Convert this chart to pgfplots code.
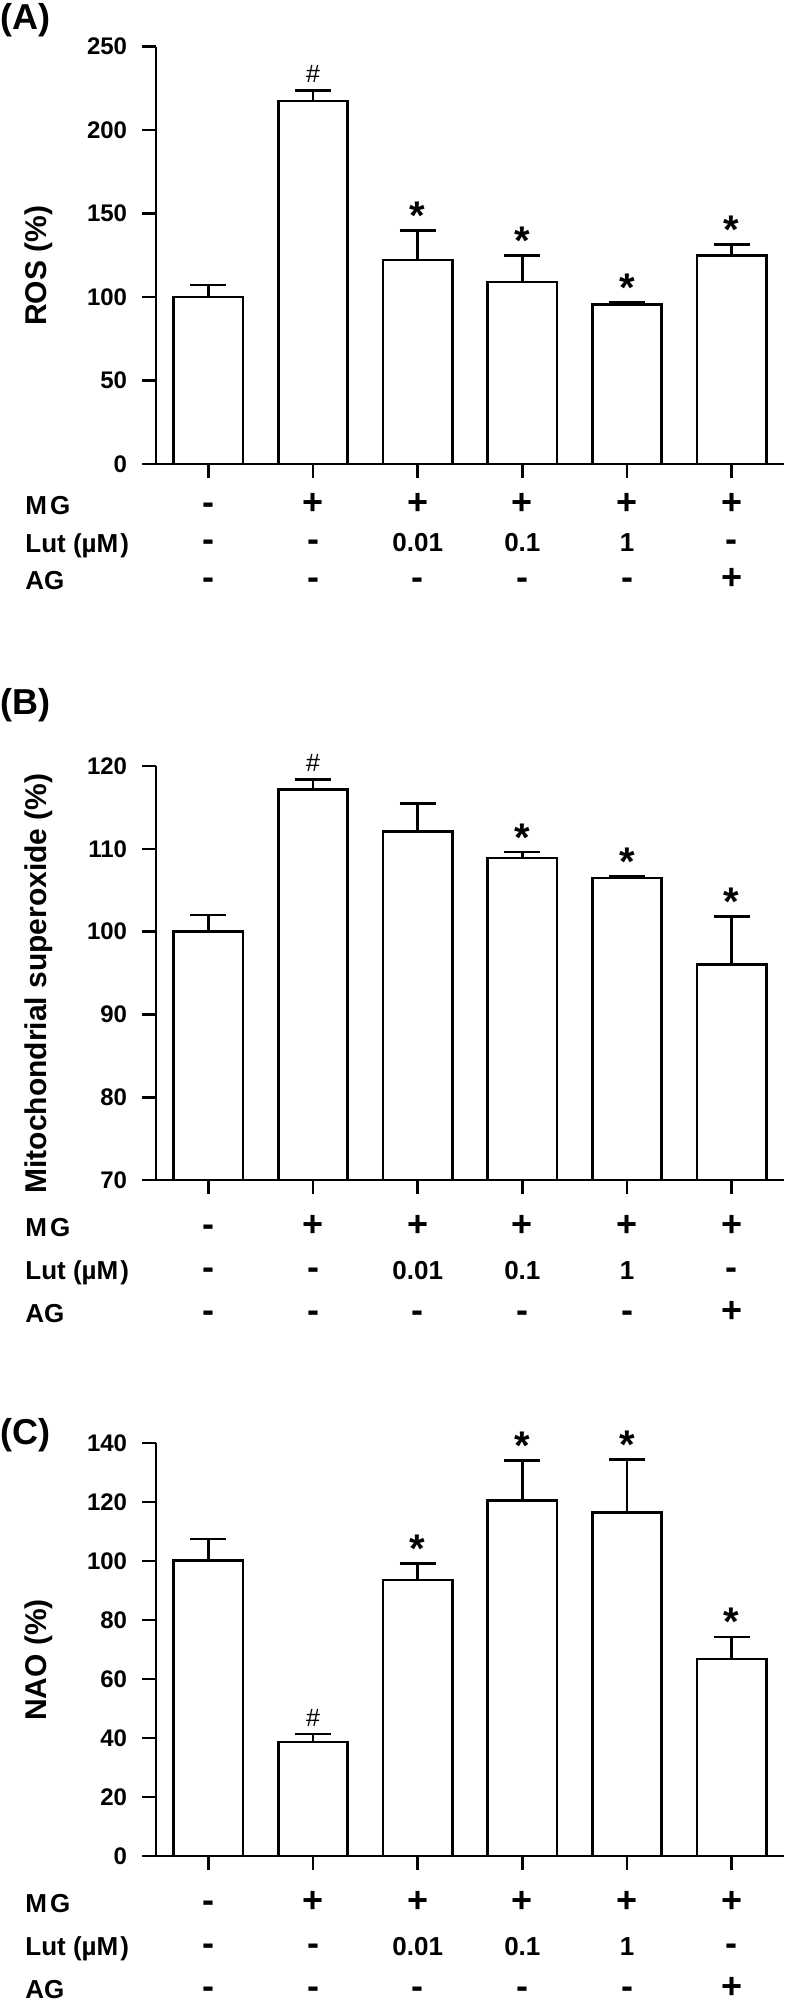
\documentclass[border=0pt]{standalone}
\usepackage{fontspec}
\setmainfont{Liberation Sans}
\usepackage{pgfplots}
\usepackage{pgfplotstable}
\pgfplotsset{compat=1.18}

\newcommand\rs[1]{\strut#1}
\newcommand\pmk[1]{{\fontsize{18}{18}\selectfont#1}}
\newcommand\rowfontA{\fontsize{13}{18.75}\selectfont\bfseries}
\newcommand\rowfontC{\fontsize{13}{21.5}\selectfont\bfseries}
\protected\def\hmark{{\fontsize{12.5}{14}\selectfont\mdseries\raisebox{1.5pt}{\#}}}
\protected\def\smark{{\fontsize{20}{24}\selectfont\bfseries\raisebox{-2pt}{*}}}

\pgfplotstableread{
x y err
0 100.1 7.1
1 217.3 6.4
2 122.2 17.5
3 108.9 16.1
4 95.6 1.2
5 125.0 6.6
}\dataA
\pgfplotstableread{
x y lab
1 223.7 \hmark
2 139.7 \smark
3 125.0 \smark
4 96.8 \smark
5 131.6 \smark
}\annA
\pgfplotstableread{
x y err
0 100.0 2.0
1 117.2 1.2
2 112.1 3.4
3 108.9 0.7
4 106.5 0.2
5 96.05 5.75
}\dataB
\pgfplotstableread{
x y lab
1 118.4 \hmark
3 109.6 \smark
4 106.7 \smark
5 101.8 \smark
}\annB
\pgfplotstableread{
x y err
0 100.2 7.2
1 38.6 2.7
2 93.5 5.7
3 120.6 13.4
4 116.4 18.1
5 66.8 7.5
}\dataC
\pgfplotstableread{
x y lab
1 41.3 \hmark
2 99.2 \smark
3 134.0 \smark
4 134.5 \smark
5 74.3 \smark
}\annC

\pgfplotsset{
  panel/.style 2 args={
    scale only axis, width=314pt,
    xmin=-0.5, xmax=5.5,
    axis x line*=bottom, axis y line*=left,
    axis line style={line width=1.3pt, -},
    tick align=outside,
    every tick/.style={black, line width=1.3pt},
    major tick length=6.75pt,
    xtick={0,...,5},
    xticklabels={{\rs{\pmk{-}}\\\rs{\pmk{-}}\\\rs{\pmk{-}}},{\rs{\pmk{+}}\\\rs{\pmk{-}}\\\rs{\pmk{-}}},{\rs{\pmk{+}}\\\rs{0.01}\\\rs{\pmk{-}}},{\rs{\pmk{+}}\\\rs{0.1}\\\rs{\pmk{-}}},{\rs{\pmk{+}}\\\rs{1}\\\rs{\pmk{-}}},{\rs{\pmk{+}}\\\rs{\pmk{-}}\\\rs{\pmk{+}}}},
    xticklabel style={font=#1, align=center, anchor=north, inner sep=0pt, yshift=#2},
    yticklabel style={font=\fontsize{12}{14}\selectfont\bfseries, inner sep=0pt, xshift=-7.5pt},
    /pgf/number format/assume math mode=true,
    ylabel style={font=\fontsize{15}{18}\selectfont\bfseries, at={(axis description cs:-0.1736,0.475)}, anchor=base},
  },
  bars/.style={ybar, bar width=0.66, bar shift=0pt, fill=white, draw=black, line width=1.3pt,
    error bars/.cd, y dir=plus, y explicit,
    error bar style={line width=1.3pt, black},
    error mark options={rotate=90, mark size=9pt, line width=1.3pt, black}},
  ann/.style={only marks, mark=none, point meta=explicit symbolic, nodes near coords,
    nodes near coords style={anchor=base, inner sep=0pt, yshift=2.5pt, font=\fontsize{12}{14}\selectfont\bfseries}},
}

\begin{document}
\begin{tikzpicture}
\useasboundingbox (0,0) rectangle (393.5pt,-1006pt);

% Panel A
\begin{axis}[panel={\rowfontA}{-5.1pt}, name=A, at={(78pt,-232pt)}, anchor=south west, height=208.75pt,
  ymin=0, ymax=250, ytick={0,50,...,250}, ylabel={ROS (\%)}]
\addplot[bars] table[x=x, y=y, y error=err] {\dataA};
\addplot[ann] table[x=x, y=y, meta=lab] {\annA};
\end{axis}
\node[anchor=north west, align=left, inner sep=0pt, font=\rowfontA] at ([xshift=-65.5pt, yshift=-12.1pt]A.south west) {\rs{M\kern1.5pt G}\\\rs{Lut (µM\kern1pt)}\\\rs{AG}};
\node[anchor=west, inner sep=0pt, font=\fontsize{18}{20}\selectfont\bfseries] at (0,-10pt) {(A)};

% Panel B
\begin{axis}[panel={\rowfontC}{-6.1pt}, name=B, at={(78pt,-590pt)}, anchor=south west, height=207pt,
  ymin=70, ymax=120, ytick={70,80,...,120}, ylabel={Mitochondrial superoxide (\%)}]
\addplot[bars] table[x=x, y=y, y error=err] {\dataB};
\addplot[ann] table[x=x, y=y, meta=lab] {\annB};
\end{axis}
\node[anchor=north west, align=left, inner sep=0pt, font=\rowfontC] at ([xshift=-65.5pt, yshift=-13.1pt]B.south west) {\rs{M\kern1.5pt G}\\\rs{Lut (µM\kern1pt)}\\\rs{AG}};
\node[anchor=west, inner sep=0pt, font=\fontsize{18}{20}\selectfont\bfseries] at (0,-352.5pt) {(B)};

% Panel C
\begin{axis}[panel={\rowfontC}{-6.1pt}, name=C, at={(78pt,-928pt)}, anchor=south west, height=206.5pt,
  ymin=0, ymax=140, ytick={0,20,...,140}, ylabel={NAO (\%)}]
\addplot[bars] table[x=x, y=y, y error=err] {\dataC};
\addplot[ann] table[x=x, y=y, meta=lab] {\annC};
\end{axis}
\node[anchor=north west, align=left, inner sep=0pt, font=\rowfontC] at ([xshift=-65.5pt, yshift=-13.1pt]C.south west) {\rs{M\kern1.5pt G}\\\rs{Lut (µM\kern1pt)}\\\rs{AG}};
\node[anchor=west, inner sep=0pt, font=\fontsize{18}{20}\selectfont\bfseries] at (0,-717.5pt) {(C)};
\end{tikzpicture}
\end{document}
